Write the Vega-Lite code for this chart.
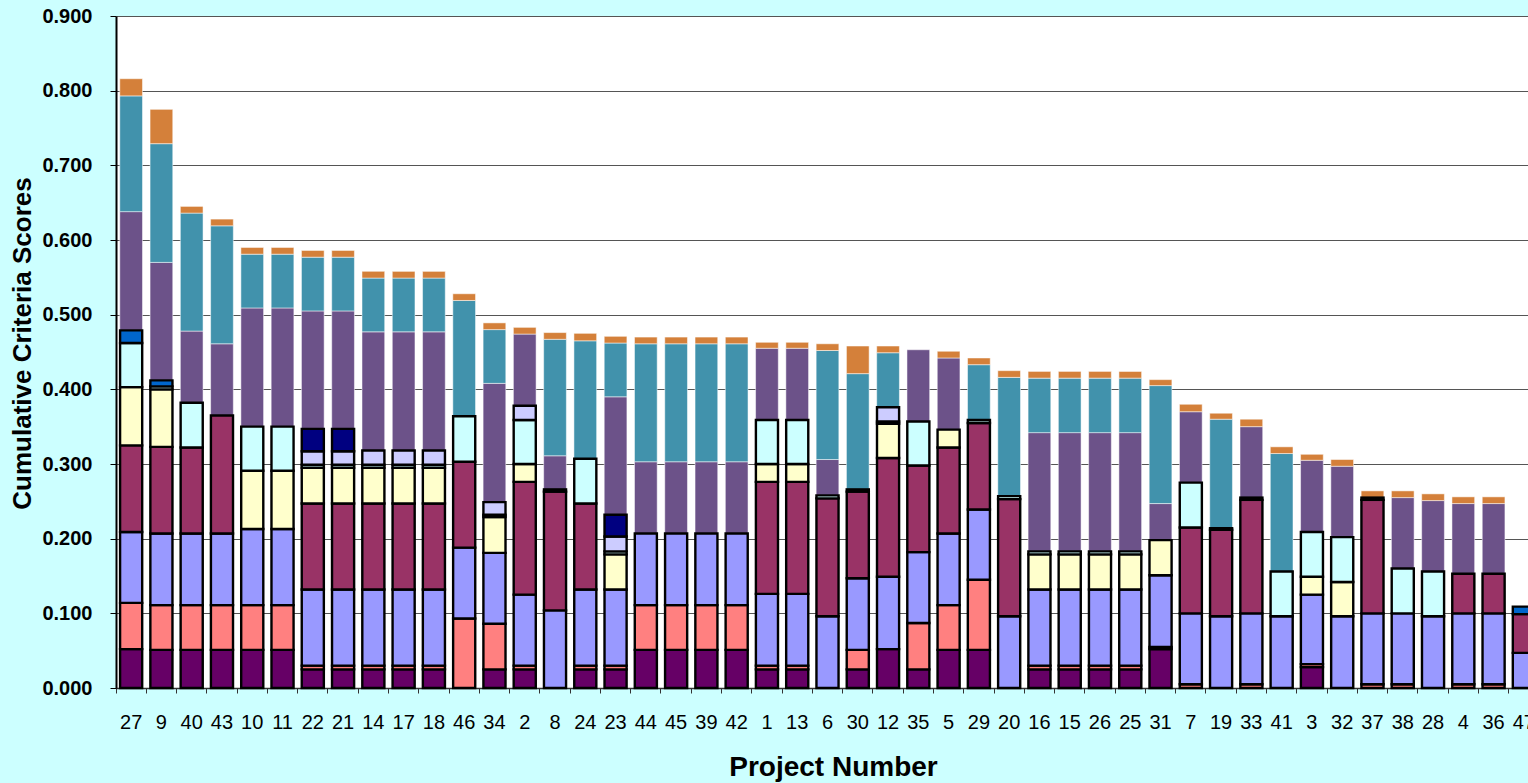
{
  "$schema": "https://vega.github.io/schema/vega-lite/v6.json",
  "autosize": {"type": "none"},
  "padding": {"left": 116, "top": 16, "right": 0, "bottom": 95},
  "width": 1412,
  "height": 672,
  "background": "#CCFFFF",
  "config": {
    "view": {"fill": "white", "stroke": null},
    "font": "Liberation Sans"
  },
  "data": {"values": [
    {"p":"27","k":1,"v":0.052},{"p":"27","k":2,"v":0.062},{"p":"27","k":3,"v":0.095},{"p":"27","k":4,"v":0.116},{"p":"27","k":5,"v":0.078},{"p":"27","k":6,"v":0.059},{"p":"27","k":9,"v":0.017},{"p":"27","k":10,"v":0.159},{"p":"27","k":11,"v":0.155},{"p":"27","k":12,"v":0.023},
    {"p":"9","k":1,"v":0.051},{"p":"9","k":2,"v":0.060},{"p":"9","k":3,"v":0.096},{"p":"9","k":4,"v":0.116},{"p":"9","k":5,"v":0.077},{"p":"9","k":6,"v":0.004},{"p":"9","k":9,"v":0.008},{"p":"9","k":10,"v":0.158},{"p":"9","k":11,"v":0.159},{"p":"9","k":12,"v":0.046},
    {"p":"40","k":1,"v":0.051},{"p":"40","k":2,"v":0.060},{"p":"40","k":3,"v":0.096},{"p":"40","k":4,"v":0.115},{"p":"40","k":6,"v":0.060},{"p":"40","k":10,"v":0.096},{"p":"40","k":11,"v":0.158},{"p":"40","k":12,"v":0.009},
    {"p":"43","k":1,"v":0.051},{"p":"43","k":2,"v":0.060},{"p":"43","k":3,"v":0.096},{"p":"43","k":4,"v":0.158},{"p":"43","k":10,"v":0.096},{"p":"43","k":11,"v":0.158},{"p":"43","k":12,"v":0.009},
    {"p":"10","k":1,"v":0.051},{"p":"10","k":2,"v":0.060},{"p":"10","k":3,"v":0.102},{"p":"10","k":5,"v":0.078},{"p":"10","k":6,"v":0.059},{"p":"10","k":10,"v":0.159},{"p":"10","k":11,"v":0.072},{"p":"10","k":12,"v":0.009},
    {"p":"11","k":1,"v":0.051},{"p":"11","k":2,"v":0.060},{"p":"11","k":3,"v":0.102},{"p":"11","k":5,"v":0.078},{"p":"11","k":6,"v":0.059},{"p":"11","k":10,"v":0.159},{"p":"11","k":11,"v":0.072},{"p":"11","k":12,"v":0.009},
    {"p":"22","k":1,"v":0.025},{"p":"22","k":2,"v":0.005},{"p":"22","k":3,"v":0.102},{"p":"22","k":4,"v":0.115},{"p":"22","k":5,"v":0.048},{"p":"22","k":6,"v":0.004},{"p":"22","k":7,"v":0.018},{"p":"22","k":8,"v":0.030},{"p":"22","k":10,"v":0.158},{"p":"22","k":11,"v":0.072},{"p":"22","k":12,"v":0.009},
    {"p":"21","k":1,"v":0.025},{"p":"21","k":2,"v":0.005},{"p":"21","k":3,"v":0.102},{"p":"21","k":4,"v":0.115},{"p":"21","k":5,"v":0.048},{"p":"21","k":6,"v":0.004},{"p":"21","k":7,"v":0.018},{"p":"21","k":8,"v":0.030},{"p":"21","k":10,"v":0.158},{"p":"21","k":11,"v":0.072},{"p":"21","k":12,"v":0.009},
    {"p":"14","k":1,"v":0.025},{"p":"14","k":2,"v":0.005},{"p":"14","k":3,"v":0.102},{"p":"14","k":4,"v":0.115},{"p":"14","k":5,"v":0.048},{"p":"14","k":6,"v":0.004},{"p":"14","k":7,"v":0.019},{"p":"14","k":10,"v":0.159},{"p":"14","k":11,"v":0.072},{"p":"14","k":12,"v":0.009},
    {"p":"17","k":1,"v":0.025},{"p":"17","k":2,"v":0.005},{"p":"17","k":3,"v":0.102},{"p":"17","k":4,"v":0.115},{"p":"17","k":5,"v":0.048},{"p":"17","k":6,"v":0.004},{"p":"17","k":7,"v":0.019},{"p":"17","k":10,"v":0.159},{"p":"17","k":11,"v":0.072},{"p":"17","k":12,"v":0.009},
    {"p":"18","k":1,"v":0.025},{"p":"18","k":2,"v":0.005},{"p":"18","k":3,"v":0.102},{"p":"18","k":4,"v":0.115},{"p":"18","k":5,"v":0.048},{"p":"18","k":6,"v":0.004},{"p":"18","k":7,"v":0.019},{"p":"18","k":10,"v":0.159},{"p":"18","k":11,"v":0.072},{"p":"18","k":12,"v":0.009},
    {"p":"46","k":2,"v":0.093},{"p":"46","k":3,"v":0.095},{"p":"46","k":4,"v":0.115},{"p":"46","k":6,"v":0.061},{"p":"46","k":11,"v":0.155},{"p":"46","k":12,"v":0.009},
    {"p":"34","k":1,"v":0.025},{"p":"34","k":2,"v":0.061},{"p":"34","k":3,"v":0.095},{"p":"34","k":5,"v":0.048},{"p":"34","k":6,"v":0.003},{"p":"34","k":7,"v":0.017},{"p":"34","k":10,"v":0.159},{"p":"34","k":11,"v":0.072},{"p":"34","k":12,"v":0.009},
    {"p":"2","k":1,"v":0.025},{"p":"2","k":2,"v":0.005},{"p":"2","k":3,"v":0.095},{"p":"2","k":4,"v":0.151},{"p":"2","k":5,"v":0.024},{"p":"2","k":6,"v":0.059},{"p":"2","k":7,"v":0.019},{"p":"2","k":10,"v":0.096},{"p":"2","k":12,"v":0.009},
    {"p":"8","k":3,"v":0.104},{"p":"8","k":4,"v":0.159},{"p":"8","k":6,"v":0.003},{"p":"8","k":10,"v":0.045},{"p":"8","k":11,"v":0.156},{"p":"8","k":12,"v":0.009},
    {"p":"24","k":1,"v":0.025},{"p":"24","k":2,"v":0.005},{"p":"24","k":3,"v":0.102},{"p":"24","k":4,"v":0.115},{"p":"24","k":6,"v":0.060},{"p":"24","k":11,"v":0.158},{"p":"24","k":12,"v":0.010},
    {"p":"23","k":1,"v":0.025},{"p":"23","k":2,"v":0.005},{"p":"23","k":3,"v":0.102},{"p":"23","k":5,"v":0.047},{"p":"23","k":6,"v":0.004},{"p":"23","k":7,"v":0.020},{"p":"23","k":8,"v":0.029},{"p":"23","k":10,"v":0.158},{"p":"23","k":11,"v":0.072},{"p":"23","k":12,"v":0.009},
    {"p":"44","k":1,"v":0.051},{"p":"44","k":2,"v":0.060},{"p":"44","k":3,"v":0.096},{"p":"44","k":10,"v":0.096},{"p":"44","k":11,"v":0.158},{"p":"44","k":12,"v":0.009},
    {"p":"45","k":1,"v":0.051},{"p":"45","k":2,"v":0.060},{"p":"45","k":3,"v":0.096},{"p":"45","k":10,"v":0.096},{"p":"45","k":11,"v":0.158},{"p":"45","k":12,"v":0.009},
    {"p":"39","k":1,"v":0.051},{"p":"39","k":2,"v":0.060},{"p":"39","k":3,"v":0.096},{"p":"39","k":10,"v":0.096},{"p":"39","k":11,"v":0.158},{"p":"39","k":12,"v":0.009},
    {"p":"42","k":1,"v":0.051},{"p":"42","k":2,"v":0.060},{"p":"42","k":3,"v":0.096},{"p":"42","k":10,"v":0.096},{"p":"42","k":11,"v":0.158},{"p":"42","k":12,"v":0.009},
    {"p":"1","k":1,"v":0.025},{"p":"1","k":2,"v":0.005},{"p":"1","k":3,"v":0.096},{"p":"1","k":4,"v":0.150},{"p":"1","k":5,"v":0.024},{"p":"1","k":6,"v":0.059},{"p":"1","k":10,"v":0.096},{"p":"1","k":12,"v":0.008},
    {"p":"13","k":1,"v":0.025},{"p":"13","k":2,"v":0.005},{"p":"13","k":3,"v":0.096},{"p":"13","k":4,"v":0.150},{"p":"13","k":5,"v":0.024},{"p":"13","k":6,"v":0.059},{"p":"13","k":10,"v":0.096},{"p":"13","k":12,"v":0.008},
    {"p":"6","k":3,"v":0.096},{"p":"6","k":4,"v":0.158},{"p":"6","k":6,"v":0.004},{"p":"6","k":10,"v":0.048},{"p":"6","k":11,"v":0.146},{"p":"6","k":12,"v":0.009},
    {"p":"30","k":1,"v":0.025},{"p":"30","k":2,"v":0.026},{"p":"30","k":3,"v":0.096},{"p":"30","k":4,"v":0.116},{"p":"30","k":6,"v":0.003},{"p":"30","k":11,"v":0.155},{"p":"30","k":12,"v":0.037},
    {"p":"12","k":1,"v":0.052},{"p":"12","k":3,"v":0.097},{"p":"12","k":4,"v":0.159},{"p":"12","k":5,"v":0.046},{"p":"12","k":6,"v":0.003},{"p":"12","k":7,"v":0.019},{"p":"12","k":11,"v":0.073},{"p":"12","k":12,"v":0.009},
    {"p":"35","k":1,"v":0.025},{"p":"35","k":2,"v":0.062},{"p":"35","k":3,"v":0.095},{"p":"35","k":4,"v":0.116},{"p":"35","k":6,"v":0.059},{"p":"35","k":10,"v":0.096},
    {"p":"5","k":1,"v":0.051},{"p":"5","k":2,"v":0.060},{"p":"5","k":3,"v":0.096},{"p":"5","k":4,"v":0.115},{"p":"5","k":5,"v":0.024},{"p":"5","k":10,"v":0.096},{"p":"5","k":12,"v":0.009},
    {"p":"29","k":1,"v":0.051},{"p":"29","k":2,"v":0.094},{"p":"29","k":3,"v":0.094},{"p":"29","k":4,"v":0.116},{"p":"29","k":6,"v":0.004},{"p":"29","k":11,"v":0.074},{"p":"29","k":12,"v":0.009},
    {"p":"20","k":3,"v":0.096},{"p":"20","k":4,"v":0.157},{"p":"20","k":6,"v":0.004},{"p":"20","k":11,"v":0.159},{"p":"20","k":12,"v":0.009},
    {"p":"16","k":1,"v":0.025},{"p":"16","k":2,"v":0.005},{"p":"16","k":3,"v":0.102},{"p":"16","k":5,"v":0.047},{"p":"16","k":6,"v":0.004},{"p":"16","k":10,"v":0.159},{"p":"16","k":11,"v":0.073},{"p":"16","k":12,"v":0.009},
    {"p":"15","k":1,"v":0.025},{"p":"15","k":2,"v":0.005},{"p":"15","k":3,"v":0.102},{"p":"15","k":5,"v":0.047},{"p":"15","k":6,"v":0.004},{"p":"15","k":10,"v":0.159},{"p":"15","k":11,"v":0.073},{"p":"15","k":12,"v":0.009},
    {"p":"26","k":1,"v":0.025},{"p":"26","k":2,"v":0.005},{"p":"26","k":3,"v":0.102},{"p":"26","k":5,"v":0.047},{"p":"26","k":6,"v":0.004},{"p":"26","k":10,"v":0.159},{"p":"26","k":11,"v":0.073},{"p":"26","k":12,"v":0.009},
    {"p":"25","k":1,"v":0.025},{"p":"25","k":2,"v":0.005},{"p":"25","k":3,"v":0.102},{"p":"25","k":5,"v":0.047},{"p":"25","k":6,"v":0.004},{"p":"25","k":10,"v":0.159},{"p":"25","k":11,"v":0.073},{"p":"25","k":12,"v":0.009},
    {"p":"31","k":1,"v":0.052},{"p":"31","k":2,"v":0.003},{"p":"31","k":3,"v":0.096},{"p":"31","k":5,"v":0.047},{"p":"31","k":10,"v":0.049},{"p":"31","k":11,"v":0.158},{"p":"31","k":12,"v":0.008},
    {"p":"7","k":2,"v":0.005},{"p":"7","k":3,"v":0.095},{"p":"7","k":4,"v":0.115},{"p":"7","k":6,"v":0.060},{"p":"7","k":10,"v":0.095},{"p":"7","k":12,"v":0.010},
    {"p":"19","k":3,"v":0.096},{"p":"19","k":4,"v":0.116},{"p":"19","k":6,"v":0.002},{"p":"19","k":11,"v":0.146},{"p":"19","k":12,"v":0.008},
    {"p":"33","k":2,"v":0.005},{"p":"33","k":3,"v":0.095},{"p":"33","k":4,"v":0.152},{"p":"33","k":6,"v":0.003},{"p":"33","k":10,"v":0.095},{"p":"33","k":12,"v":0.010},
    {"p":"41","k":3,"v":0.096},{"p":"41","k":6,"v":0.060},{"p":"41","k":11,"v":0.158},{"p":"41","k":12,"v":0.009},
    {"p":"3","k":1,"v":0.028},{"p":"3","k":2,"v":0.004},{"p":"3","k":3,"v":0.093},{"p":"3","k":5,"v":0.024},{"p":"3","k":6,"v":0.060},{"p":"3","k":10,"v":0.096},{"p":"3","k":12,"v":0.008},
    {"p":"32","k":3,"v":0.096},{"p":"32","k":5,"v":0.046},{"p":"32","k":6,"v":0.060},{"p":"32","k":10,"v":0.095},{"p":"32","k":12,"v":0.009},
    {"p":"37","k":2,"v":0.005},{"p":"37","k":3,"v":0.095},{"p":"37","k":4,"v":0.152},{"p":"37","k":6,"v":0.003},{"p":"37","k":12,"v":0.009},
    {"p":"38","k":2,"v":0.005},{"p":"38","k":3,"v":0.095},{"p":"38","k":6,"v":0.060},{"p":"38","k":10,"v":0.095},{"p":"38","k":12,"v":0.009},
    {"p":"28","k":3,"v":0.096},{"p":"28","k":6,"v":0.060},{"p":"28","k":10,"v":0.095},{"p":"28","k":12,"v":0.009},
    {"p":"4","k":2,"v":0.005},{"p":"4","k":3,"v":0.095},{"p":"4","k":4,"v":0.053},{"p":"4","k":10,"v":0.094},{"p":"4","k":12,"v":0.009},
    {"p":"36","k":2,"v":0.005},{"p":"36","k":3,"v":0.095},{"p":"36","k":4,"v":0.053},{"p":"36","k":10,"v":0.094},{"p":"36","k":12,"v":0.009},
    {"p":"47","k":3,"v":0.047},{"p":"47","k":4,"v":0.052},{"p":"47","k":9,"v":0.010}
  ]},
  "transform": [
    {"stack": "v", "groupby": ["p"], "sort": [{"field": "k", "order": "ascending"}], "as": ["y0", "y1"]}
  ],
  "encoding": {
    "x": {
      "field": "p", "type": "nominal",
      "sort": ["27","9","40","43","10","11","22","21","14","17","18","46","34","2","8","24","23","44","45","39","42","1","13","6","30","12","35","5","29","20","16","15","26","25","31","7","19","33","41","3","32","37","38","28","4","36","47"],
      "scale": {"range": [0, 1423], "paddingInner": 0, "paddingOuter": 0},
      "axis": {
        "bandPosition": 0, "grid": false, "labelAngle": 0, "labelOverlap": false,
        "labelFont": "Liberation Sans", "labelFontSize": 20, "labelColor": "#000", "labelPadding": 19,
        "tickSize": 5, "tickColor": "#333", "domainColor": "#333", "domainWidth": 1.5,
        "title": "Project Number", "titleFont": "Liberation Sans", "titleFontSize": 28, "titleFontWeight": "bold", "titleColor": "#000",
        "titleX": 717, "titleY": 87, "titleAlign": "center", "titleBaseline": "alphabetic"
      }
    },
    "y": {
      "field": "y1", "type": "quantitative",
      "scale": {"domain": [0, 0.9], "nice": false, "zero": true},
      "axis": {
        "values": [0, 0.1, 0.2, 0.3, 0.4, 0.5, 0.6, 0.7, 0.8, 0.9], "format": ".3f",
        "grid": true, "gridColor": "#555", "gridWidth": 1,
        "labelFont": "Liberation Sans", "labelFontSize": 20, "labelFontWeight": "bold", "labelColor": "#000", "labelPadding": 18,
        "tickSize": 6, "tickColor": "#000", "domainColor": "#000", "domainWidth": 2,
        "title": "Cumulative Criteria Scores", "titleFont": "Liberation Sans", "titleFontSize": 26, "titleFontWeight": "bold", "titleColor": "#000",
        "titleX": -94, "titleY": 327, "titleAlign": "center", "titleBaseline": "middle", "titleAngle": -90
      }
    },
    "y2": {"field": "y0"},
    "color": {
      "field": "k", "type": "ordinal", "legend": null,
      "scale": {
        "domain": [1, 2, 3, 4, 5, 6, 7, 8, 9, 10, 11, 12],
        "range": ["#660066", "#FF8080", "#9999FF", "#993366", "#FFFFCC", "#CCFFFF", "#CCCCFF", "#000080", "#0066CC", "#6C5289", "#4192AC", "#D4803A"]
      }
    }
  },
  "layer": [
    {
      "transform": [{"filter": "datum.k >= 10"}],
      "mark": {"type": "bar", "width": {"band": 0.75}, "stroke": "#ffffff", "strokeOpacity": 0.5, "strokeWidth": 1, "opacity": 1}
    },
    {
      "transform": [{"filter": "datum.k <= 9"}],
      "mark": {"type": "bar", "width": {"band": 0.73}, "stroke": "#000000", "strokeWidth": 2.4, "opacity": 1}
    }
  ]
}
